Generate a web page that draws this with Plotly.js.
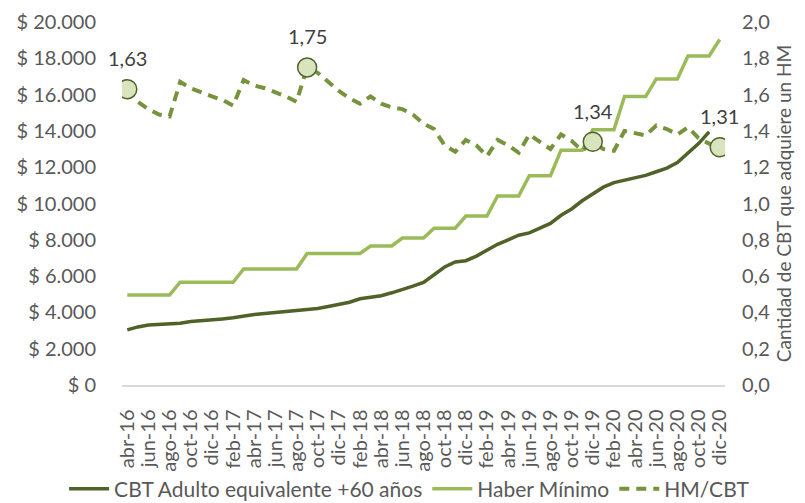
<!DOCTYPE html>
<html><head><meta charset="utf-8">
<script src="https://cdn.plot.ly/plotly-3.0.1.min.js"></script>
<style>html,body{margin:0;padding:0;background:#fff;}#chart{width:805px;height:503px;}</style>
</head><body><div id="chart"></div>
<script>
const months = ["abr-16","may-16","jun-16","jul-16","ago-16","sep-16","oct-16","nov-16","dic-16","ene-17","feb-17","mar-17",
"abr-17","may-17","jun-17","jul-17","ago-17","sep-17","oct-17","nov-17","dic-17","ene-18","feb-18","mar-18",
"abr-18","may-18","jun-18","jul-18","ago-18","sep-18","oct-18","nov-18","dic-18","ene-19","feb-19","mar-19",
"abr-19","may-19","jun-19","jul-19","ago-19","sep-19","oct-19","nov-19","dic-19","ene-20","feb-20","mar-20",
"abr-20","may-20","jun-20","jul-20","ago-20","sep-20","oct-20","nov-20","dic-20"];

const cbt = [3040,3200,3300,3330,3360,3400,3500,3540,3560,3640,3700,3800,
3880,3940,4000,4050,4100,4150,4220,4330,4460,4560,4750,4830,
4920,5080,5250,5450,5650,6050,6500,6780,6850,7100,7450,7750,
8000,8250,8380,8650,8900,9350,9700,10150,10550,10900,11150,11300,
11400,11550,11750,11950,12250,12750,13300,13950,null];

const haberMinimo = [4959,4959,4959,4959,4959,5661,5661,5661,5661,5661,5661,6395,
6395,6395,6395,6395,6395,7247,7247,7247,7247,7247,7247,7660,
7660,7660,8097,8097,8097,8637,8637,8637,9308,9308,9308,10411,
10411,10411,11528,11528,11528,12937,12937,12937,14068,14068,14068,15891,
15891,15891,16864,16864,16864,18129,18129,18129,19035];

const ratio = [1.63,1.56,1.52,1.49,1.48,1.67,1.635,1.61,1.59,1.57,1.54,1.68,
1.65,1.635,1.615,1.59,1.56,1.75,1.72,1.67,1.62,1.58,1.55,1.59,
1.55,1.53,1.52,1.49,1.44,1.41,1.32,1.285,1.35,1.32,1.26,1.35,
1.32,1.28,1.38,1.34,1.30,1.38,1.345,1.29,1.34,1.30,1.29,1.40,
1.385,1.375,1.43,1.41,1.38,1.42,1.36,1.33,1.31];

const highlightMonths = ["abr-16","sep-17","dic-19","dic-20"];
const highlightValues = [1.63,1.75,1.34,1.31];
const highlightLabels = ["1,63","1,75","1,34","1,31"];

const leftTickVals = [0,2000,4000,6000,8000,10000,12000,14000,16000,18000,20000];
const leftTickText = ["$ 0","$ 2.000","$ 4.000","$ 6.000","$ 8.000","$ 10.000","$ 12.000","$ 14.000","$ 16.000","$ 18.000","$ 20.000"];
const rightTickVals = [0,0.2,0.4,0.6,0.8,1.0,1.2,1.4,1.6,1.8,2.0];
const rightTickText = ["0,0","0,2","0,4","0,6","0,8","1,0","1,2","1,4","1,6","1,8","2,0"];
const xTickVals = months.filter((m,i)=>i%2===0);

const FONT = "Lato, 'Open Sans', sans-serif";
const GREY = "#595959";

const traces = [
  {x: months, y: cbt, type:'scatter', mode:'lines', name:'CBT Adulto equivalente +60 años',
   line:{color:'#4f6228', width:3.5}, yaxis:'y'},
  {x: months, y: haberMinimo, type:'scatter', mode:'lines', name:'Haber Mínimo',
   line:{color:'#9bbb59', width:3.5}, yaxis:'y'},
  {x: months, y: ratio, type:'scatter', mode:'lines', name:'HM/CBT',
   line:{color:'#77933c', width:4, dash:'10px,7px'}, yaxis:'y2'},
  {x: highlightMonths, y: highlightValues, type:'scatter', mode:'markers', showlegend:false,
   marker:{size:19, color:'#d7e4bd', line:{color:'#4f6228', width:1.5}}, yaxis:'y2'}
];

const annotations = highlightMonths.map((m,i)=>({
  x: m, y: highlightValues[i], xref:'x', yref:'y2', text: highlightLabels[i],
  showarrow:false, yshift:31, font:{family:FONT, size:20, color:'#404040'}
}));

const layout = {
  width:805, height:503,
  margin:{l:122, r:80, t:22, b:118, pad:0, autoexpand:false},
  paper_bgcolor:'#ffffff', plot_bgcolor:'#ffffff',
  font:{family:FONT, size:20, color:GREY},
  showlegend:true,
  legend:{orientation:'h', x:-0.096, xanchor:'left', xref:'paper', y:-0.2865, yref:'paper', yanchor:'middle',
          font:{family:FONT, size:21, color:GREY}, traceorder:'normal', itemwidth:40,
          bgcolor:'rgba(0,0,0,0)'},
  xaxis:{type:'category', categoryorder:'array', categoryarray:months,
         range:[-0.5, months.length-0.5], automargin:false,
         tickmode:'array', tickvals:xTickVals, ticktext:xTickVals, tickangle:-90,
         tickfont:{family:FONT, size:20, color:GREY},
         showgrid:false, zeroline:false, showline:true, linecolor:'#d9d9d9', linewidth:1.5,
         ticks:'outside', ticklen:15, tickcolor:'rgba(0,0,0,0)'},
  yaxis:{range:[0,20000], tickmode:'array', tickvals:leftTickVals, ticktext:leftTickText,
         showgrid:false, zeroline:false, showline:false, automargin:false,
         tickfont:{family:FONT, size:20, color:GREY},
         ticks:'outside', ticklen:21, tickcolor:'rgba(0,0,0,0)'},
  yaxis2:{range:[0,2], overlaying:'y', side:'right', tickmode:'array',
          tickvals:rightTickVals, ticktext:rightTickText, automargin:false,
          showgrid:false, zeroline:false, showline:false,
          tickfont:{family:FONT, size:20, color:GREY},
          ticks:'outside', ticklen:12, tickcolor:'rgba(0,0,0,0)',
          title:{text:'Cantidad de CBT que adquiere un HM', font:{family:FONT, size:19, color:GREY}, standoff:8}},
  annotations: annotations
};

Plotly.newPlot('chart', traces, layout, {displayModeBar:false, staticPlot:true});
</script></body></html>
